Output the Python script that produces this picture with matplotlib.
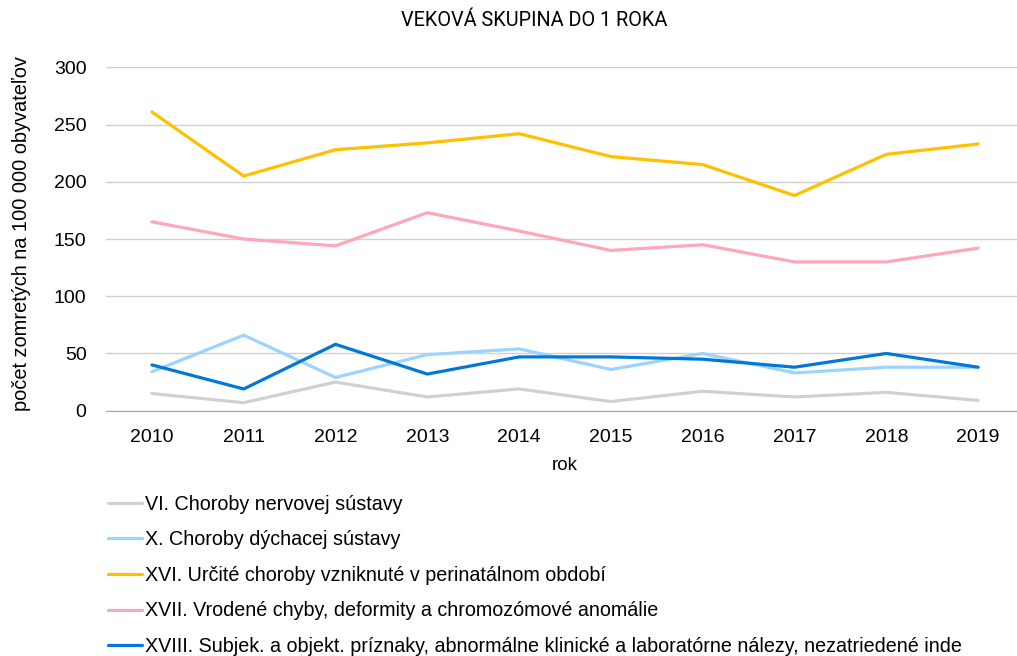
import numpy as np
import matplotlib.pyplot as plt

plt.rcParams['font.family'] = ['Liberation Sans', 'DejaVu Sans']

years = [2010, 2011, 2012, 2013, 2014, 2015, 2016, 2017, 2018, 2019]
nervova = [15, 7, 25, 12, 19, 8, 17, 12, 16, 9]
dychacia = [34, 66, 29, 49, 54, 36, 50, 33, 38, 38]
perinatal = [261, 205, 228, 234, 242, 222, 215, 188, 224, 233]
vrodene = [165, 150, 144, 173, 157, 140, 145, 130, 130, 142]
subjek = [40, 19, 58, 32, 47, 47, 45, 38, 50, 38]

labels = ['VI. Choroby nervovej sústavy',
          'X. Choroby dýchacej sústavy',
          'XVI. Určité choroby vzniknuté v perinatálnom období',
          'XVII. Vrodené chyby, deformity a chromozómové anomálie',
          'XVIII. Subjek. a objekt. príznaky, abnormálne klinické a laboratórne nálezy, nezatriedené inde']
colors = ['#D0D0D0', '#9DD3FF', '#FFC000', '#FFA7B7', '#0078D7']
series = [nervova, dychacia, perinatal, vrodene, subjek]

fig = plt.figure(figsize=(10.17, 6.56), dpi=100)
ax = fig.add_axes([106/1017, 1-410.7/656, 918/1017, 343.4/656])
x = np.arange(len(years))
for s, c, l in zip(series, colors, labels):
    ax.plot(x, s, color=c, lw=2.3, label=l, solid_capstyle='round')

ax.set_xlim(-0.5, len(years)-0.5)
ax.set_ylim(0, 300)
ax.set_yticks(range(0, 301, 50))
ax.set_xticks(x)
ax.set_xticklabels([str(y) for y in years])
ax.tick_params(length=0, labelsize=14, pad=13)
ax.tick_params(axis='y', pad=14)
ax.grid(axis='y', color='#D0D0D0', lw=1)
ax.set_axisbelow(True)
for sp in ['top', 'right', 'left']:
    ax.spines[sp].set_visible(False)
ax.spines['bottom'].set_color('#A6A6A6')
ax.set_ylabel('počet zomretých na 100 000 obyvateľov', fontsize=14.4)
ax.yaxis.set_label_coords(-0.082, 0.515)
ax.set_xlabel('rok', fontsize=13.5, labelpad=8)

fig.text(534/1017, 1-20/656, 'VEKOVÁ SKUPINA DO 1 ROKA', ha='center', va='center',
         fontsize=14.3, family=['Roboto', 'DejaVu Sans'], fontstretch='condensed')

fig.legend(loc='upper left', bbox_to_anchor=(90/1017, 1-477/656), frameon=False,
           fontsize=14.2, handlelength=1.75, handletextpad=0.15, labelspacing=0.84)

fig.savefig('out.png', dpi=100)
